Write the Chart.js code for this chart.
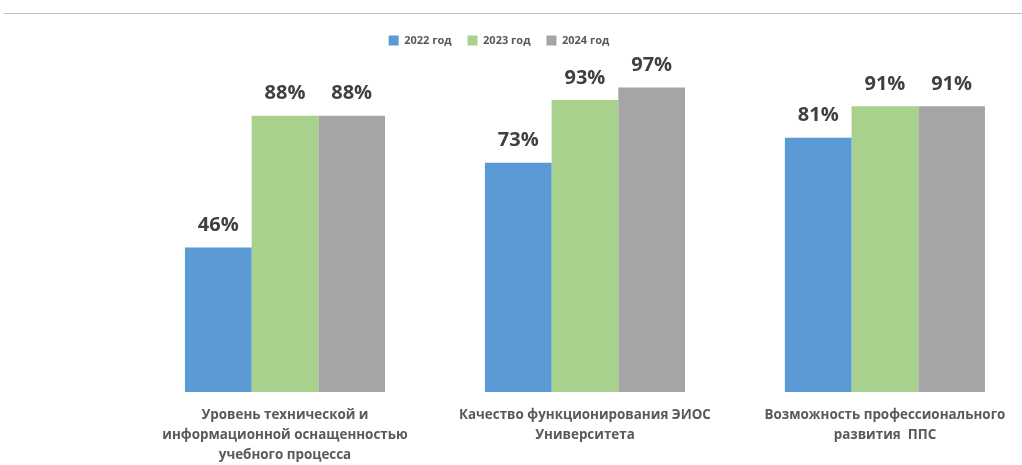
<!DOCTYPE html>
<html>
<head>
<meta charset="utf-8">
<script src="https://cdn.jsdelivr.net/npm/chart.js@4"></script>
<style>
    html, body { margin: 0; padding: 0; background: #fff; overflow: hidden; }
    .wrap { position: relative; width: 1022px; height: 465px; }
    .topline { position: absolute; top: 13px; left: 4px; right: 0; height: 1px; background: #c0c0c0; }
</style>
</head>
<body>
<div class="wrap">
    <div class="topline"></div>
    <canvas id="myChart"></canvas>
</div>
<script>
'use strict'

// categories (multi-line labels under the groups)
var categories = [
    ['Уровень технической и', 'информационной оснащенностью', 'учебного процесса'],
    ['Качество функционирования ЭИОС', 'Университета'],
    ['Возможность профессионального', 'развития  ППС']
];
var years = ['2022 год', '2023 год', '2024 год'];
var values2022 = [46, 73, 81];
var values2023 = [88, 93, 91];
var values2024 = [88, 97, 91];

var colors = ['#5B9BD5', '#A9D18E', '#A5A5A5'];

function toPoints(arr) {
    return arr.map(function (v, i) { return { x: i, y: v }; });
}

// percent labels above bars
var valueLabels = {
    id: 'valueLabels',
    afterDatasetsDraw: function (chart) {
        var ctx = chart.ctx;
        ctx.save();
        ctx.font = 'bold 20px "Open Sans"';
        ctx.fillStyle = '#404040';
        ctx.textAlign = 'center';
        ctx.textBaseline = 'middle';
        chart.data.datasets.forEach(function (ds, di) {
            var meta = chart.getDatasetMeta(di);
            meta.data.forEach(function (bar, i) {
                ctx.fillText(ds.data[i].y + '%', bar.x, bar.y - 22);
            });
        });
        ctx.restore();
    }
};

// extra space under the legend
var legendGap = {
    id: 'legendGap',
    beforeInit: function (chart) {
        var fit = chart.legend.fit;
        chart.legend.fit = function () {
            fit.bind(chart.legend)();
            this.height += 22;
        };
    }
};

var ctx = document.getElementById('myChart').getContext('2d');
var myChart = new Chart(ctx, {
    type: 'bar',
    data: {
        datasets: [
            { label: years[0], data: toPoints(values2022), backgroundColor: colors[0] },
            { label: years[1], data: toPoints(values2023), backgroundColor: colors[1] },
            { label: years[2], data: toPoints(values2024), backgroundColor: colors[2] }
        ]
    },
    options: {
        responsive: true,
        maintainAspectRatio: false,
        animation: false,
        layout: { padding: { top: 19, left: 0, right: 24, bottom: 0 } },
        datasets: {
            bar: { categoryPercentage: 0.667, barPercentage: 1.0, borderWidth: 0 }
        },
        scales: {
            x: {
                type: 'linear',
                offset: false,
                min: -0.5,
                max: 2.377,
                grid: { display: false, drawTicks: false },
                border: { display: false },
                afterBuildTicks: function (axis) {
                    axis.ticks = categories.map(function (c, i) { return { value: i }; });
                },
                afterFit: function (axis) { axis.height = 73; },
                ticks: {
                    autoSkip: false,
                    maxRotation: 0,
                    padding: 13,
                    color: '#595959',
                    font: { family: '"Open Sans"', size: 13.4, weight: 'bold', lineHeight: 1.5 },
                    callback: function (value) { return categories[value]; }
                }
            },
            y: {
                min: 0,
                max: 100,
                grid: { display: false },
                border: { display: false },
                ticks: { display: false },
                afterFit: function (axis) { axis.width = 135; }
            }
        },
        plugins: {
            legend: {
                position: 'top',
                labels: {
                    boxWidth: 10,
                    boxHeight: 10,
                    padding: 16,
                    color: '#595959',
                    font: { family: '"Open Sans"', size: 11, weight: 'bold' }
                }
            },
            tooltip: { enabled: false }
        }
    },
    plugins: [valueLabels, legendGap]
});
</script>
</body>
</html>
